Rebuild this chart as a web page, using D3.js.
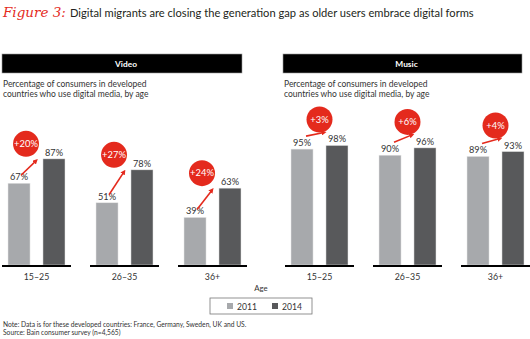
<!DOCTYPE html>
<html lang="en">
<head>
  <meta charset="UTF-8">
  <title>Figure 3</title>
  <script src="https://cdnjs.cloudflare.com/ajax/libs/d3/7.8.5/d3.min.js"></script>
  <style>
    * { margin: 0; padding: 0; }
    html, body { background: #fff; }
    svg text { font-family: Lato, "Open Sans", sans-serif; }
  </style>
</head>
<body>
<div id="chart"></div>
<script>
  // data
  const ages = ['15–25', '26–35', '36+']
  const years = ['2011', '2014']
  const videoValues = [[67, 87], [51, 78], [39, 63]]
  const musicValues = [[95, 98], [90, 96], [89, 93]]
  const videoChange = ['+20%', '+27%', '+24%']
  const musicChange = ['+3%', '+6%', '+4%']

  const W = 530, H = 339
  const red = '#e42a1d'
  const color = d3.scaleOrdinal().domain(years).range(['#a7a9ac', '#58595b'])

  const svg = d3.select('#chart').append('svg')
    .attr('width', W).attr('height', H)

  const defs = svg.append('defs')
  defs.append('marker')
    .attr('id', 'arrow')
    .attr('viewBox', '0 0 10 10')
    .attr('refX', 5).attr('refY', 5)
    .attr('markerWidth', 3.2).attr('markerHeight', 3.2)
    .attr('orient', 'auto')
    .append('path')
    .attr('d', 'M0,0 L10,5 L0,10 z')
    .attr('fill', red)

  // title
  svg.append('text')
    .attr('x', 3).attr('y', 17)
    .attr('fill', red)
    .style('font-family', '"DejaVu Serif", serif')
    .style('font-style', 'italic')
    .style('font-size', '13.5px')
    .text('Figure 3:')
  svg.append('text')
    .attr('x', 70).attr('y', 17)
    .attr('fill', '#231f20')
    .style('font-size', '11.15px')
    .text('Digital migrants are closing the generation gap as older users embrace digital forms')

  const y = d3.scaleLinear().domain([0, 100]).range([265, 143])

  function panel(opts) {
    const g = svg.append('g')
    const values = opts.values

    // header bar
    g.append('rect')
      .attr('x', opts.hx).attr('y', 54)
      .attr('width', opts.hw).attr('height', 19)
      .attr('fill', '#000')
      .attr('stroke', '#9a9a9a').attr('stroke-width', 0.6)
    g.append('text')
      .attr('x', opts.hx + opts.hw / 2 + 4).attr('y', 66.5)
      .attr('text-anchor', 'middle')
      .attr('fill', '#fff')
      .style('font-size', '8.4px').style('font-weight', 'bold')
      .text(opts.name)

    const sub = g.append('text')
      .attr('fill', '#333')
      .style('font-size', '8.5px')
    sub.append('tspan').attr('x', opts.hx + 1).attr('y', 87).text('Percentage of consumers in developed')
    sub.append('tspan').attr('x', opts.hx + 1).attr('y', 97).text('countries who use digital media, by age')

    const x0 = d3.scaleBand().domain(ages).range(opts.range).paddingInner(0.216)
    const x1 = d3.scaleBand().domain(years).range([6, 63]).paddingInner(0.37)

    const groups = g.selectAll('.grp').data(ages).join('g')
      .attr('class', 'grp')
      .attr('transform', d => `translate(${x0(d)},0)`)

    groups.selectAll('rect.bar')
      .data((d, i) => years.map((yr, j) => ({ yr, v: values[i][j] })))
      .join('rect')
      .attr('class', 'bar')
      .attr('x', d => x1(d.yr))
      .attr('width', x1.bandwidth())
      .attr('y', d => y(d.v))
      .attr('height', d => y(0) - y(d.v))
      .attr('fill', d => color(d.yr))
      .attr('stroke', '#e6e6e6').attr('stroke-width', 0.5)

    groups.selectAll('text.val')
      .data((d, i) => years.map((yr, j) => ({ yr, v: values[i][j] })))
      .join('text')
      .attr('class', 'val')
      .attr('x', d => x1(d.yr) + x1.bandwidth() / 2)
      .attr('y', d => y(d.v) - 3)
      .attr('text-anchor', 'middle')
      .attr('fill', '#333')
      .style('font-size', '9.2px')
      .text(d => d.v + '%')

    // baseline
    groups.append('line')
      .attr('x1', 0).attr('x2', x0.bandwidth())
      .attr('y1', y(0) + 1).attr('y2', y(0) + 1)
      .attr('stroke', '#000').attr('stroke-width', 2)

    groups.append('text')
      .attr('x', x0.bandwidth() / 2).attr('y', 279.5)
      .attr('text-anchor', 'middle')
      .attr('fill', '#333')
      .style('font-size', '8.8px')
      .text(d => d)

    // arrows and change bubbles
    groups.append('line')
      .attr('x1', (d, i) => opts.arrow.sx(x1, values[i]))
      .attr('y1', (d, i) => opts.arrow.sy(values[i]))
      .attr('x2', (d, i) => opts.arrow.ex(x1, values[i]))
      .attr('y2', (d, i) => opts.arrow.ey(values[i]))
      .attr('stroke', red).attr('stroke-width', 1.6)
      .attr('marker-end', 'url(#arrow)')

    groups.append('circle')
      .attr('cx', (d, i) => opts.bubble.x(x1, values[i]))
      .attr('cy', (d, i) => opts.bubble.y(values[i]))
      .attr('r', 13)
      .attr('fill', red)
    groups.append('text')
      .attr('x', (d, i) => opts.bubble.x(x1, values[i]))
      .attr('y', (d, i) => opts.bubble.y(values[i]) + 3.3)
      .attr('text-anchor', 'middle')
      .attr('fill', '#fff')
      .style('font-size', '9.4px')
      .text((d, i) => opts.change[i])
  }

  panel({
    name: 'Video', hx: 2, hw: 240, range: [2, 247],
    values: videoValues, change: videoChange,
    arrow: {
      sx: (x1, v) => x1('2011') + x1.bandwidth() / 2 + 2,
      sy: v => y(v[0]) - 8,
      ex: (x1, v) => x1('2014') - 7,
      ey: v => y(v[1]) + 2
    },
    bubble: {
      x: (x1, v) => x1('2011') + x1.bandwidth() / 2 + 7,
      y: v => y(v[1]) - 15
    }
  })

  panel({
    name: 'Music', hx: 283, hw: 239, range: [285, 530],
    values: musicValues, change: musicChange,
    arrow: {
      sx: (x1, v) => x1('2011') + x1.bandwidth() / 2 + 4,
      sy: v => y(v[0]) - 13,
      ex: (x1, v) => x1('2014') - 2,
      ey: v => y(v[1]) - 13
    },
    bubble: {
      x: (x1, v) => (x1('2011') + x1('2014') + x1.bandwidth()) / 2,
      y: v => y(v[1]) - 26
    }
  })

  // axis title and legend
  svg.append('text')
    .attr('x', 261).attr('y', 290.5)
    .attr('text-anchor', 'middle')
    .attr('fill', '#333')
    .style('font-size', '7.8px')
    .text('Age')

  const legend = svg.append('g').attr('transform', 'translate(210,298)')
  legend.append('rect')
    .attr('width', 102).attr('height', 16)
    .attr('fill', '#fff').attr('stroke', '#777').attr('stroke-width', 0.8)
  const li = legend.selectAll('g').data(years).join('g')
    .attr('transform', (d, i) => `translate(${17 + i * 45},5)`)
  li.append('rect').attr('width', 6).attr('height', 6).attr('fill', d => color(d))
  li.append('text')
    .attr('x', 10).attr('y', 6.5)
    .attr('fill', '#333')
    .style('font-size', '8.6px')
    .text(d => d)

  // notes
  const notes = svg.append('text').attr('fill', '#333').style('font-size', '6.7px')
  notes.append('tspan').attr('x', 3).attr('y', 327)
    .text('Note: Data is for these developed countries: France, Germany, Sweden, UK and US.')
  notes.append('tspan').attr('x', 3).attr('y', 335)
    .text('Source: Bain consumer survey (n=4,565)')
</script>
</body>
</html>
